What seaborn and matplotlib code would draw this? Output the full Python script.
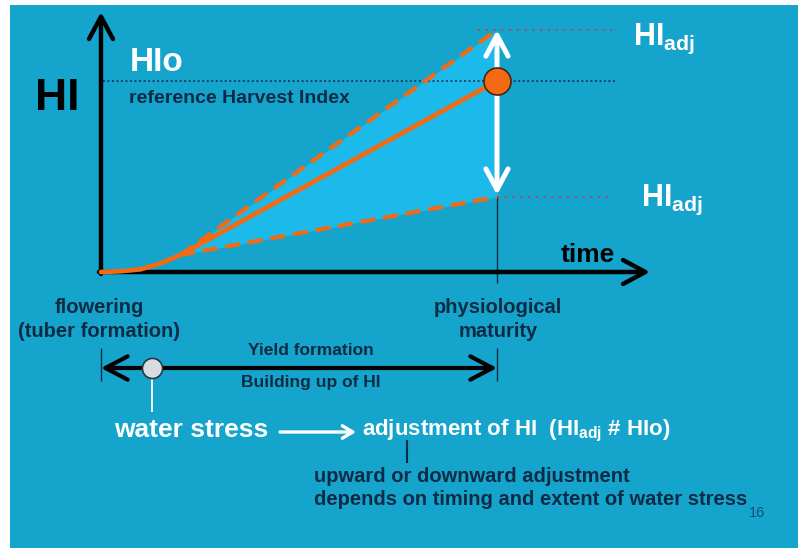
import numpy as np
import pandas as pd
import seaborn as sns
import matplotlib.pyplot as plt

# time: 0 = flowering, 1 = physiological maturity; HI relative to HIo (= 1)
time_ref = [0.0, 0.05, 0.10, 0.15, 0.20, 1.0]
hi_ref = [0.0, 0.004, 0.014, 0.045, 0.089, 1.0]
time_adj = [0.20, 1.0]
hi_adj_up = [0.089, 1.267]
hi_adj_down = [0.089, 0.393]
hio = 1.0
t_maturity = 1.0
t_stress = 0.13

BG = '#14A4CC'
FILL = '#1CBAEA'
ORANGE = '#F26A14'
NAVY = '#0D2B45'
W, H = 798, 548


# pixel position -> data units (for layout of labels / arrows)
def fx(px):
    return (px - 101) / 396


def fy(py):
    return (272 - py) / 191


sns.set_theme(style='white')
plt.rcParams['font.family'] = ['Liberation Sans', 'DejaVu Sans']
plt.rcParams['mathtext.fontset'] = 'custom'
plt.rcParams['mathtext.rm'] = 'Liberation Sans:bold'
plt.rcParams['mathtext.default'] = 'rm'

fig = plt.figure(figsize=(W / 100, H / 100), dpi=100, facecolor='white')
ax = fig.add_axes([10 / W, 0, (W - 10) / W, (H - 5) / H])
ax.set_facecolor(BG)

ref = pd.DataFrame({'time': time_ref, 'HI': hi_ref})
adj = pd.DataFrame({'time': time_adj, 'up': hi_adj_up, 'down': hi_adj_down})

ax.fill_between(adj['time'], adj['down'], adj['up'], color=FILL, lw=0, zorder=1)

# guide lines
ax.hlines(hio, fx(103), fx(617), color='#0E3560', lw=1.3, linestyle=(0, (1, 1.5)), zorder=2)
ax.hlines(hi_adj_up[-1], fx(478), fx(612), color='#C2405A', lw=1.4, linestyle=(0, (1, 3)), zorder=2)
ax.hlines(hi_adj_down[-1], t_maturity, fx(612), color='#C2405A', lw=1.4, linestyle=(0, (1, 3)), zorder=2)
ax.vlines(t_maturity, fy(283), hi_adj_down[-1], color=NAVY, lw=1, zorder=2)

# axes arrows
axis_arrow = dict(arrowstyle='->,head_length=0.8,head_width=0.43', lw=3.2, color='black',
                  mutation_scale=20, shrinkA=0, shrinkB=0)
ax.annotate('', xy=(0, fy(12)), xytext=(0, fy(274)), arrowprops=axis_arrow, zorder=3)
ax.annotate('', xy=(fx(650), 0), xytext=(fx(99), 0), arrowprops=axis_arrow, zorder=3)

# HI curves
sns.lineplot(data=ref, x='time', y='HI', color=ORANGE, lw=3.4, sort=False, ax=ax, zorder=4)
sns.lineplot(data=adj, x='time', y='up', color=ORANGE, lw=3, linestyle=(0, (3.6, 1.9)), ax=ax, zorder=4)
sns.lineplot(data=adj, x='time', y='down', color=ORANGE, lw=3, linestyle=(0, (3.6, 1.9)), ax=ax, zorder=4)

# white double arrow of adjustment
ax.annotate('', xy=(t_maturity, hi_adj_up[-1]), xytext=(t_maturity, hi_adj_down[-1] + 0.01),
            arrowprops=dict(arrowstyle='<->,head_length=0.75,head_width=0.4', lw=3.6, color='white',
                            mutation_scale=20, shrinkA=0, shrinkB=0), zorder=5)
sns.scatterplot(x=[t_maturity], y=[hio], s=380, color=ORANGE, edgecolor='#4A2410', linewidth=1.2, ax=ax, zorder=6)

# yield formation period
ax.annotate('', xy=(0, fy(368)), xytext=(t_maturity, fy(368)),
            arrowprops=dict(arrowstyle='<->,head_length=0.8,head_width=0.42', lw=3, color='black',
                            mutation_scale=20, shrinkA=0, shrinkB=0), zorder=3)
ax.vlines([0, t_maturity], fy(381), fy(348), color=NAVY, lw=1, zorder=2)
ax.vlines(t_stress, fy(412), fy(376), color='white', lw=1.3, zorder=3)
sns.scatterplot(x=[t_stress], y=[fy(368)], s=210, color='#D5DDE3', edgecolor='#2A3440', linewidth=1.2, ax=ax, zorder=6)

ax.annotate('', xy=(fx(356), fy(432)), xytext=(fx(280), fy(432)),
            arrowprops=dict(arrowstyle='->,head_length=0.5,head_width=0.3', lw=2.4, color='white',
                            mutation_scale=15, shrinkA=0, shrinkB=0), zorder=3)
ax.vlines(fx(407), fy(463), fy(440), color=NAVY, lw=1.5, zorder=3)

# texts
def label(px, py, s, size, color=NAVY, ha='left', weight='bold'):
    ax.text(fx(px), fy(py), s, fontsize=size, color=color, ha=ha, va='baseline', weight=weight, zorder=7)


label(35, 110, 'HI', 32, color='black')
label(130, 71, 'HIo', 24, color='white')
label(129, 103, 'reference Harvest Index', 14)
label(633, 45, r'HI$_{adj}$', 22, color='white')
label(641, 206, r'HI$_{adj}$', 22, color='white')
label(561, 262, 'time', 19, color='black')
label(99, 313, 'flowering', 14.5, ha='center')
label(99, 337, '(tuber formation)', 14.5, ha='center')
label(498, 313, 'physiological', 14.5, ha='center')
label(498, 337, 'maturity', 14.5, ha='center')
label(311, 355, 'Yield formation', 12.5, ha='center')
label(311, 387, 'Building up of HI', 12.5, ha='center')
label(114, 437, 'water stress', 19, color='white')
label(362, 435, r'adjustment of HI  (HI$_{adj}$ # HIo)', 16, color='white')
label(314, 482, 'upward or downward adjustment', 14.5)
label(314, 505, 'depends on timing and extent of water stress', 14.5)
label(749, 517, '16', 10.5, color='#134F7D', weight='normal')

ax.set_xlim(fx(10), fx(W))
ax.set_ylim(fy(H), fy(5))
ax.set_xlabel('')
ax.set_ylabel('')
ax.set_xticks([])
ax.set_yticks([])
for s in ax.spines.values():
    s.set_visible(False)

plt.savefig('out.png', dpi=100, facecolor='white')
